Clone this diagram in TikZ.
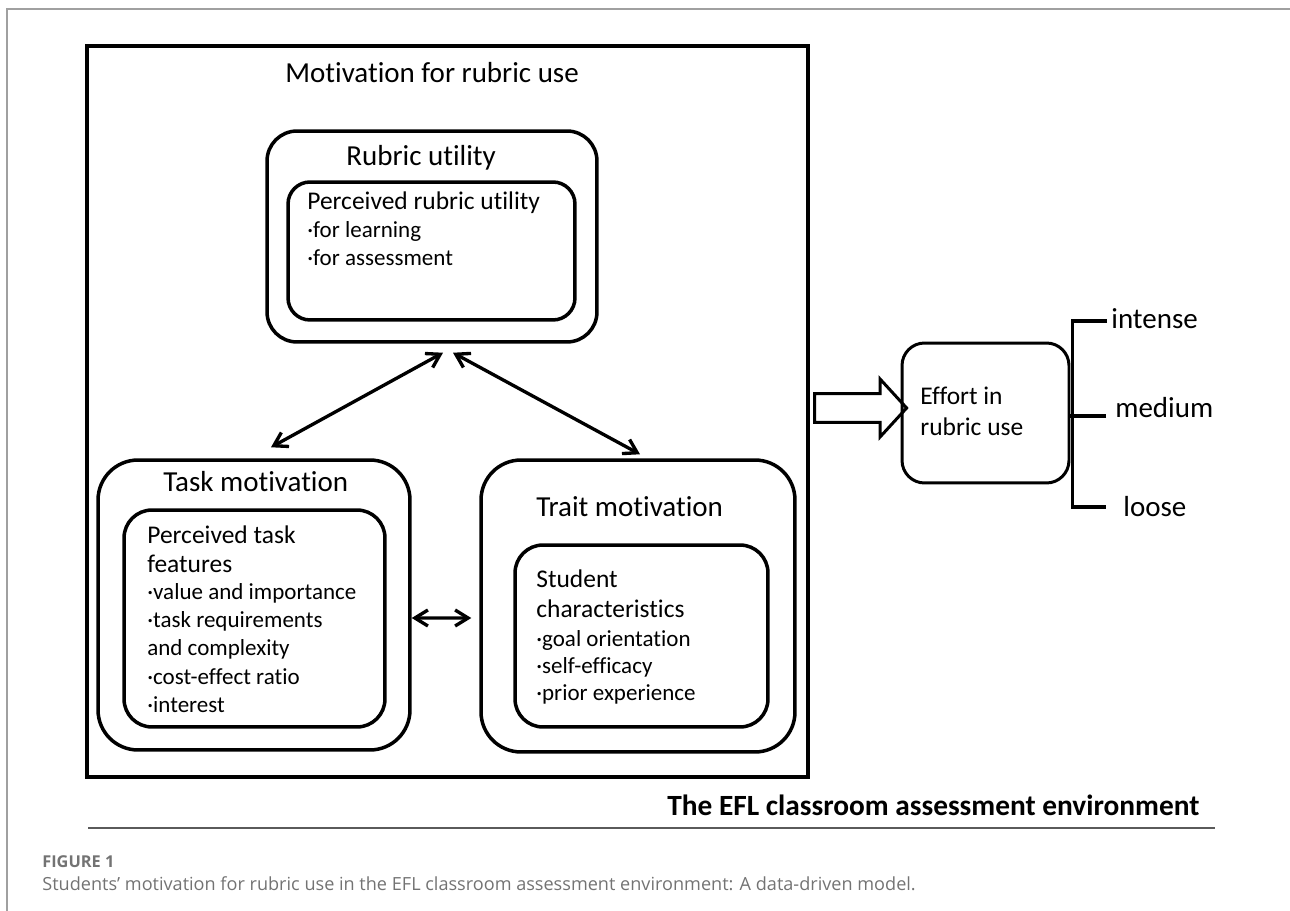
\documentclass[tikz,border=0pt]{standalone}
\usepackage{fontspec}
\setmainfont{Carlito}[Ligatures=NoCommon]
\newfontfamily\capfont{Open Sans}
\usetikzlibrary{positioning, shapes, arrows.meta}
\definecolor{framegray}{RGB}{160,160,160}
\definecolor{rulegray}{RGB}{90,90,90}
\definecolor{capgray}{RGB}{115,115,115}
\tikzset{
  bigbox/.style={draw, line width=2.1pt, inner sep=0, minimum width=14.42cm, 
    minimum height=14.62cm},
  outerbox/.style={draw, line width=2pt, rounded corners=0.8cm, inner sep=0},
  innerbox/.style={draw, line width=2pt, rounded corners=0.5cm, inner sep=0},
  head/.style={inner sep=0, anchor=base west, font=\fontsize{16.5}{19}\selectfont},
  item/.style={inner sep=0, anchor=base west, font=\fontsize{14.5}{17}\selectfont},
  bullet/.style={inner sep=0, anchor=base west, font=\fontsize{13.1}{15}\selectfont},
  twoway/.style={{Straight Barb[length=2.6mm,width=3.2mm]}-{Straight Barb[length=2.6mm,width=3.2mm]}, 
    line width=1.9pt},
  bracket/.style={line width=1.9pt}
}

\begin{document}
\begin{tikzpicture}[x=0.02cm, y=-0.02cm]
\useasboundingbox (0,0) rectangle (1290,911);

% page frame
\draw[framegray, line width=0.8pt] (7,911) -- (7,9) -- (1290,9);

\node [bigbox] (main) at (447.5,411.5) {};
\node [head] (maintitle) at (285,83) {Motivation for rubric use};

% rubric utility
\node [outerbox, rounded corners=0.6cm, minimum width=6.6cm, minimum height=4.22cm] (rubric) at (432,236.5) {};
\node [innerbox, rounded corners=0.44cm, minimum width=5.74cm, minimum height=2.76cm] (rubricin) at (431.5,251) {};
\node [head] (rubrictitle) at (346,166) {Rubric utility};
\node [item] (ru0) at (307,210) {Perceived rubric utility};
\foreach \t [count=\i] in {·for learning, ·for assessment}
  \node [bullet] (ru\i) at (307,210+28*\i) {\t};

% task motivation
\node [outerbox, minimum width=6.24cm, minimum height=5.8cm] (task) at (254,605) {};
\node [innerbox, rounded corners=0.56cm, minimum width=5.22cm, minimum height=4.34cm] (taskin) at (254.5,618.5) {};
\node [head] (tasktitle) at (163,492) {Task motivation};
\node [item] (tm0) at (147,543) {Perceived task};
\node [item] (tm1) at (147,572) {features};
\foreach \t [count=\i from 2] in {·value and importance, ·task requirements,
  and complexity, ·cost-effect ratio, ·interest}
  \node [bullet] (tm\i) at (147,543+28.2*\i) {\t};

% trait motivation
\node [outerbox, minimum width=6.28cm, minimum height=5.84cm] (trait) at (638,606) {};
\node [innerbox, rounded corners=0.56cm, minimum width=5.06cm, minimum height=3.64cm] (traitin) at (641.5,636) {};
\node [head] (traittitle) at (536,517) {Trait motivation};
\node [item] (sc0) at (536,587) {Student};
\node [item] (sc1) at (536,617) {characteristics};
\foreach \t [count=\i from 2] in {·goal orientation, ·self-efficacy, ·prior experience}
  \node [bullet] (sc\i) at (536,592+27*\i) {\t};

\draw[twoway] ([xshift=0.22cm,yshift=-0.18cm]rubric.south) -- ([xshift=0.34cm,yshift=0.22cm]task.north);
\draw[twoway] ([xshift=0.42cm,yshift=-0.18cm]rubric.south) -- ([xshift=0.04cm,yshift=0.08cm]trait.north);
\draw[twoway] ([yshift=-0.26cm]task.east) -- ([xshift=-0.16cm,yshift=-0.24cm]trait.west);

% effort
\node [innerbox, line width=1.7pt, rounded corners=0.45cm, minimum width=3.34cm, minimum height=2.8cm] (effort) at (985.5,413) {};
\node [item] (eff0) at (920,405) {Effort in};
\node [item] (eff1) at (920,436) {rubric use};
\node [single arrow, draw, line width=1.7pt, inner sep=0, text height=0.52cm, text depth=0, 
  minimum height=1.84cm, single arrow head extend=0.29cm, single arrow tip angle=95] (push) at (854,408) {};

\node [head] (intense) at (1111,329) {intense};
\node [head] (medium) at (1115,418) {medium};
\node [head] (loose) at (1123,517) {loose};
\coordinate (hi) at (1107,321);
\coordinate (mid) at (1106,416);
\coordinate (lo) at (1106,507);
\draw[bracket] (hi) -| ([xshift=0.04cm]effort.east) |- (lo);
\draw[bracket] (mid) -- (mid -| effort.east);

% bottom
\node [head, font=\fontsize{16.7}{19}\selectfont\bfseries] (env) at (667,815) {The EFL classroom assessment environment};
\draw[rulegray, line width=1.1pt] (88,828) -- (1215,828);
\node [inner sep=0, anchor=base west, text=capgray, font=\capfont\fontsize{9.3}{11}\selectfont\bfseries] (fig) at (42,867) {FIGURE 1};
\node [inner sep=0, anchor=base west, text=capgray, font=\capfont\fontsize{10.3}{12}\selectfont] (cap) at (42,890)
  {Students’ motivation for rubric use in the EFL classroom assessment environment: A data-driven model.};

\end{tikzpicture}
\end{document}
